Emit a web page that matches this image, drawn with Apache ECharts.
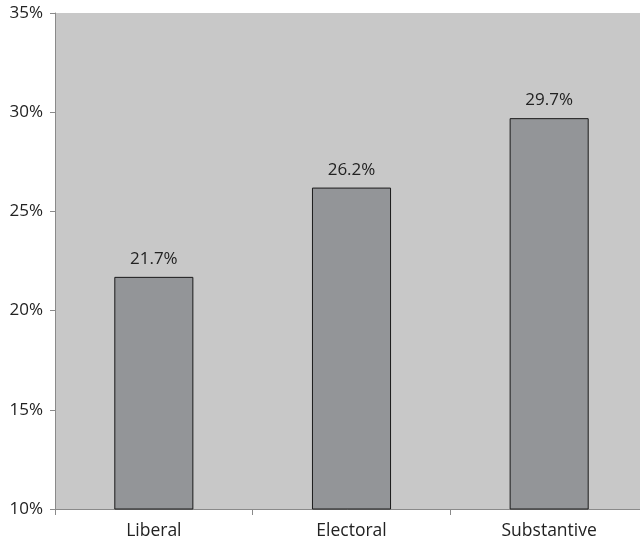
<!DOCTYPE html>
<html><head><meta charset="utf-8">
<script src="https://cdn.jsdelivr.net/npm/echarts@6/dist/echarts.min.js"></script>
<style>html,body{margin:0;padding:0;background:#fff}#c{width:640px;height:544px}</style>
</head><body><div id="c"></div>
<script>
const categories = ["Liberal", "Electoral", "Substantive"];
const values = [21.7, 26.2, 29.7];
const yTicks = [10, 15, 20, 25, 30, 35];

const chart = echarts.init(document.getElementById('c'), null, {renderer: 'canvas'});
const font = '"Open Sans", sans-serif';
chart.setOption({
  animation: false,
  grid: {left: 55, top: 13, width: 593, height: 496, outerBoundsMode: 'none', containLabel: false, show: true, backgroundColor: '#c8c8c8', borderWidth: 0},
  xAxis: {
    type: 'category', data: categories,
    axisLine: {lineStyle: {color: '#8a8a8a', width: 1}},
    axisTick: {show: true, length: 6, lineStyle: {color: '#8a8a8a'}},
    axisLabel: {color: '#222', fontFamily: font, fontSize: 17.5, margin: 13}
  },
  yAxis: {
    type: 'value', min: yTicks[0], max: yTicks[yTicks.length-1], interval: 5,
    axisLine: {show: true, lineStyle: {color: '#8a8a8a', width: 1}},
    axisTick: {show: true, length: 5, lineStyle: {color: '#8a8a8a'}},
    splitLine: {show: false},
    axisLabel: {color: '#222', fontFamily: font, fontSize: 17, margin: 12, formatter: v => v + '%'}
  },
  series: [{
    type: 'bar', data: values, barWidth: '40%',
    itemStyle: {color: '#939598', borderColor: '#1a1a1a', borderWidth: 1},
    label: {show: true, position: 'top', distance: 9, color: '#222', fontFamily: font, fontSize: 17, formatter: p => p.value.toFixed(1) + '%'}
  }]
});
</script></body></html>
